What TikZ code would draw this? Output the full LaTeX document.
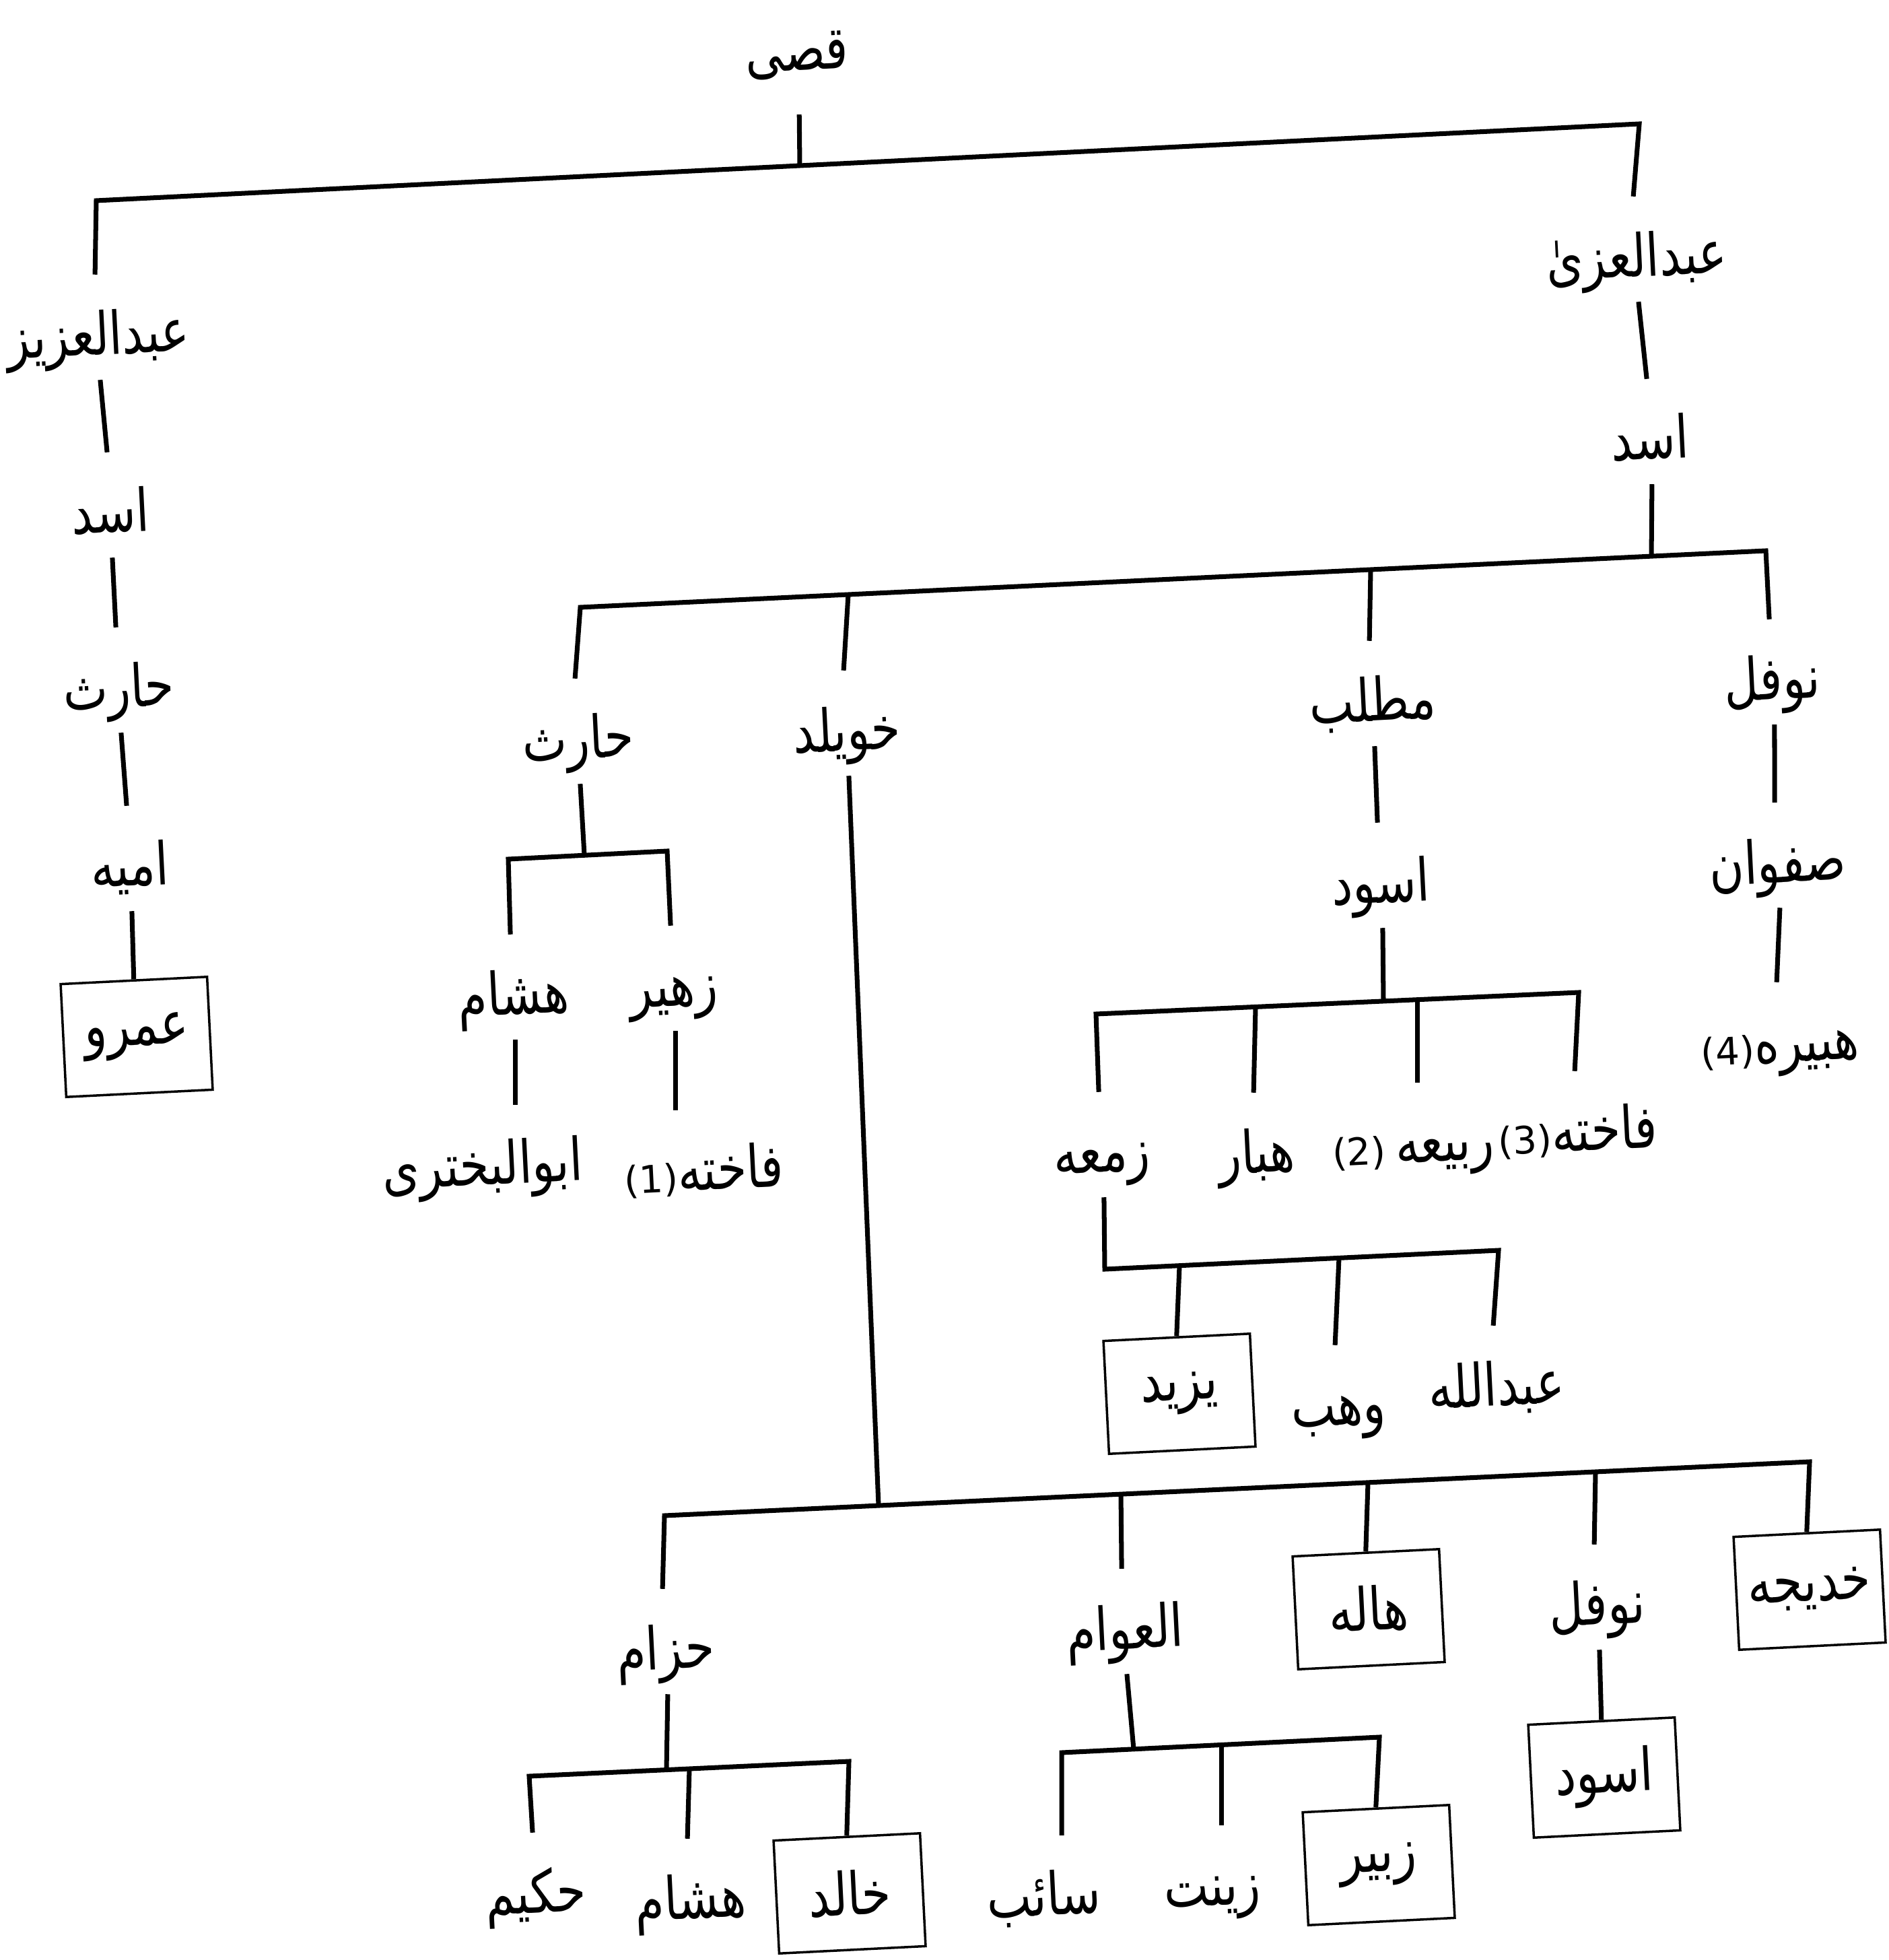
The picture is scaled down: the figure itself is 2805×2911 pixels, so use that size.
\documentclass[tikz,border=0pt]{standalone}
\usepackage{fontspec}
\TeXXeTstate=1
\newfontfamily\arabicfont[Script=Arabic, FakeStretch=0.8]{DejaVu Sans}
\newfontfamily\numfont{DejaVu Sans}
\newcommand{\RR}[1]{\beginR #1\endR}
\newcommand{\num}[1]{{\numfont\fontsize{8}{9}\selectfont #1}}
\begin{document}
\begin{tikzpicture}[x=0.005cm, y=-0.005cm,
  nm/.style={font=\fontsize{12.5}{15}\arabicfont, inner sep=0pt, text height=0.59cm, text depth=0.18cm, rotate=2.85},
  bx/.style={draw, line width=0.5pt, font=\fontsize{12.5}{15}\arabicfont, inner sep=0pt, minimum width=1.09cm, minimum height=0.84cm, rotate=2.85},
  ln/.style={line width=1pt, line join=miter}]
\useasboundingbox (0,0) rectangle (2805,2911);
% nodes
\node[nm] (qusay) at (1183,64) {\RR{قصی}};
\node[nm] (azizL) at (145,486) {\RR{عبدالعزیز}};
\node[nm] (asadL) at (163,750) {\RR{اسد}};
\node[nm] (harithL) at (176,1010) {\RR{حارث}};
\node[nm] (umayya) at (192,1275) {\RR{امیه}};
\node[bx] (amr) at (203,1540) {\RR{عمرو}};
\node[nm] (uzza) at (2430,370) {\RR{عبدالعزیٰ}};
\node[nm] (asadR) at (2450,641) {\RR{اسد}};
\node[nm] (harithM) at (858,1086) {\RR{حارث}};
\node[nm] (khuwaylid) at (1257,1074) {\RR{خویلد}};
\node[nm] (muttalib) at (2038,1030) {\RR{مطلب}};
\node[nm] (nawfalR) at (2632,998) {\RR{نوفل}};
\node[nm] (hisham1) at (762,1466) {\RR{هشام}};
\node[nm] (zuhayr) at (1000,1453) {\RR{زهیر}};
\node[nm] (bakhtari) at (716,1719) {\RR{ابوالبختری}};
\node[nm] (fakhita1) at (1045,1727) {\num{(1)}\RR{فاخته}};
\node[nm] (aswadM) at (2050,1300) {\RR{اسود}};
\node[nm] (zama) at (1636,1700) {\RR{زمعه}};
\node[nm] (habbar) at (1866,1701) {\RR{هبار}};
\node[nm] (rabia) at (2098,1686) {\num{(2)}\,\RR{ربیعه}};
\node[nm] (fakhita3) at (2343,1669) {\num{(3)}\RR{فاخته}};
\node[bx] (yazid) at (1752,2070) {\RR{یزید}};
\node[nm] (wahb) at (1987,2076) {\RR{وهب}};
\node[nm] (abdullah) at (2222,2047) {\RR{عبدالله}};
\node[nm] (safwan) at (2640,1270) {\RR{صفوان}};
\node[nm] (hubayra) at (2643,1537) {\num{(4)}\RR{هبیره}};
\node[nm] (hizam) at (988,2438) {\RR{حزام}};
\node[nm] (hakim) at (795,2800) {\RR{حکیم}};
\node[nm] (hisham2) at (1025,2809) {\RR{هشام}};
\node[bx] (khalid) at (1262,2812) {\RR{خالد}};
\node[nm] (awwam) at (1670,2408) {\RR{العوام}};
\node[nm] (saib) at (1550,2804) {\RR{سائب}};
\node[nm] (zaynab) at (1800,2789) {\RR{زینت}};
\node[bx] (zubayr) at (2048,2770) {\RR{زبیر}};
\node[bx] (hala) at (2033,2390) {\RR{هاله}};
\node[nm] (nawfalB) at (2372,2372) {\RR{نوفل}};
\node[bx] (aswadB) at (2383,2640) {\RR{اسود}};
\node[bx] (khadija) at (2688,2361) {\RR{خدیجه}};
% bar coordinates
\coordinate (t0L) at (143,298); \coordinate (t0R) at (2435,184); \coordinate (t0J) at (1188,246);
\coordinate (b2L) at (862,902); \coordinate (b2R) at (2623,818); \coordinate (b2J) at (2453,826);
\coordinate (b2K) at (1260,883); \coordinate (b2M) at (2036,846);
\coordinate (b3L) at (755,1276); \coordinate (b3R) at (991,1264); \coordinate (b3J) at (868,1270);
\coordinate (b4L) at (1628,1506); \coordinate (b4R) at (2345,1474); \coordinate (b4J) at (2055,1487);
\coordinate (b4H) at (1865,1496); \coordinate (b4Ra) at (2105,1485);
\coordinate (b5L) at (1641,1885); \coordinate (b5R) at (2226,1857);
\coordinate (b5Y) at (1752,1880); \coordinate (b5W) at (1989,1868);
\coordinate (b6L) at (987,2251); \coordinate (b6R) at (2688,2171); \coordinate (b6J) at (1305,2236);
\coordinate (b6A) at (1665,2219); \coordinate (b6H) at (2032,2202); \coordinate (b6N) at (2370,2186);
\coordinate (b7L) at (786,2638); \coordinate (b7R) at (1261,2616); \coordinate (b7J) at (990,2628);
\coordinate (b7H) at (1024,2627);
\coordinate (b8L) at (1577,2603); \coordinate (b8R) at (2049,2580); \coordinate (b8J) at (1684,2598);
\coordinate (b8Z) at (1814,2592);
% connectors
\draw[ln] (azizL.north) -- (t0L) -- (t0R) -- (uzza.north);
\draw[ln,shorten <=0.14cm] (qusay.south) -- (t0J);
\draw[ln] (azizL.south) -- (asadL.north);
\draw[ln] (asadL.south) -- (harithL.north);
\draw[ln] (harithL.south) -- (umayya.north);
\draw[ln] (umayya.south) -- (amr.north);
\draw[ln] (uzza.south) -- (asadR.north);
\draw[ln] (asadR.south) -- (b2J);
\draw[ln] (harithM.north) -- (b2L) -- (b2R) -- (nawfalR.north);
\draw[ln] (b2K) -- (khuwaylid.north);
\draw[ln] (b2M) -- (muttalib.north);
\draw[ln] (harithM.south) -- (b3J);
\draw[ln] (hisham1.north) -- (b3L) -- (b3R) -- (zuhayr.north);
\draw[ln] (hisham1.south) -- (hisham1.south |- bakhtari.north);
\draw[ln] (zuhayr.south) -- (zuhayr.south |- fakhita1.north);
\draw[ln] (muttalib.south) -- (aswadM.north);
\draw[ln] (aswadM.south) -- (b4J);
\draw[ln] (zama.north) -- (b4L) -- (b4R) -- (fakhita3.north);
\draw[ln] (b4H) -- (habbar.north);
\draw[ln] (b4Ra) -- (b4Ra |- rabia.north);
\draw[ln] (zama.south) -- (b5L) -- (b5R) -- (abdullah.north);
\draw[ln] (b5Y) -- (yazid.north);
\draw[ln] (b5W) -- (wahb.north);
\draw[ln] (nawfalR.south) -- (safwan.north);
\draw[ln] (safwan.south) -- (hubayra.north);
\draw[ln] (khuwaylid.south) -- (b6J);
\draw[ln] (hizam.north) -- (b6L) -- (b6R) -- (khadija.north);
\draw[ln] (b6A) -- (awwam.north);
\draw[ln] (b6H) -- (hala.north);
\draw[ln] (b6N) -- (nawfalB.north);
\draw[ln] (hizam.south) -- (b7J);
\draw[ln] (hakim.north) -- (b7L) -- (b7R) -- (khalid.north);
\draw[ln] (b7H) -- (hisham2.north);
\draw[ln] (awwam.south) -- (b8J);
\draw[ln] (b8L |- saib.north) -- (b8L) -- (b8R) -- (zubayr.north);
\draw[ln] (b8Z) -- (b8Z |- zaynab.north);
\draw[ln] (nawfalB.south) -- (aswadB.north);
\end{tikzpicture}
\end{document}
